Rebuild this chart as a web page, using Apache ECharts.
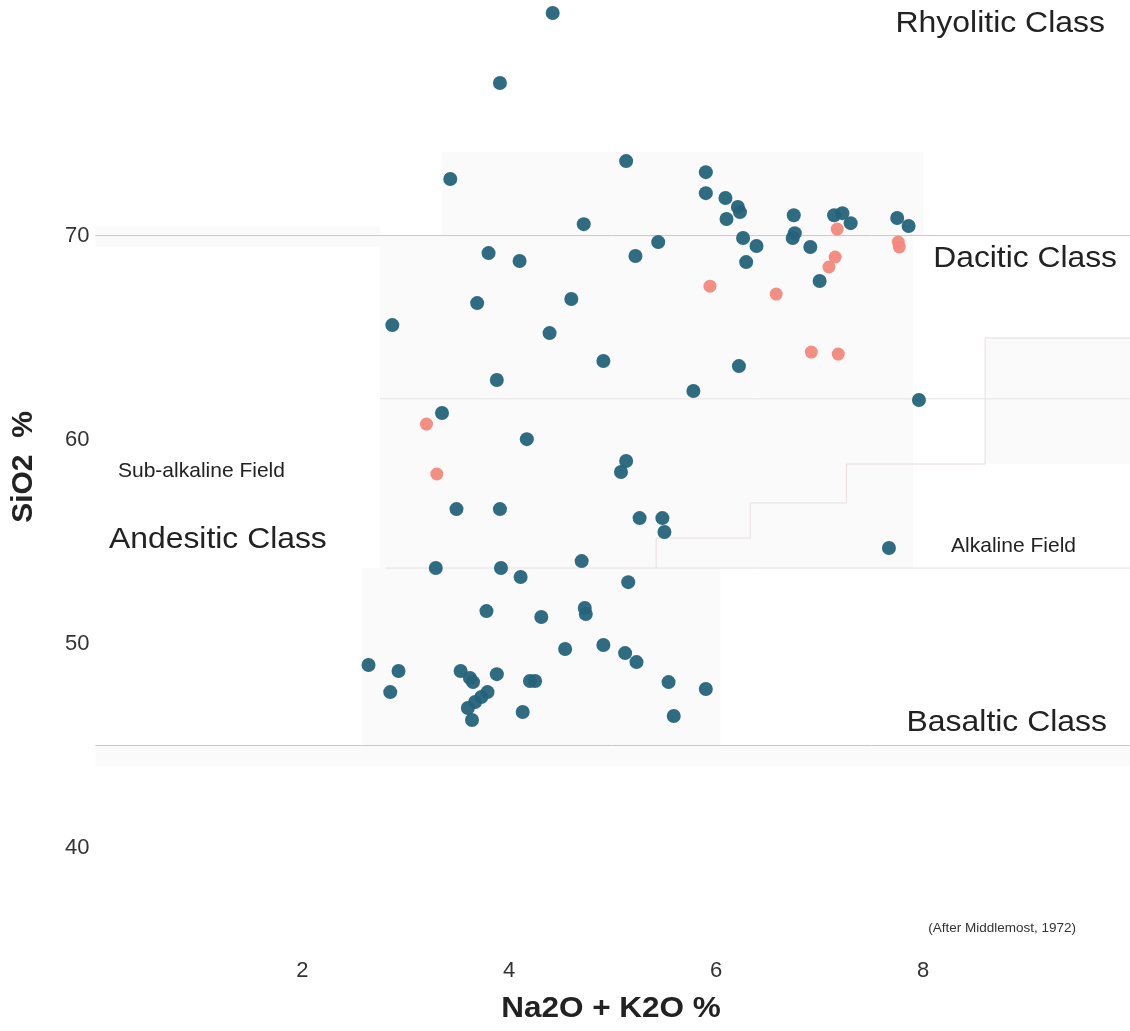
<!DOCTYPE html>
<html>
<head>
<meta charset="utf-8">
<script src="https://cdn.jsdelivr.net/npm/echarts@6/dist/echarts.min.js"></script>
<style>
html,body{margin:0;padding:0;background:#fff;}
#chart{width:1130px;height:1031px;}
</style>
</head>
<body>
<div id="chart"></div>
<script>
// ---- data ----
const xTicks = [2, 4, 6, 8];
const yTicks = [40, 50, 60, 70];

const tealSamples = [
  [4.42,80.91],[3.91,77.48],[3.43,72.77],[5.13,73.65],[5.90,73.11],[5.90,72.08],
  [6.09,71.84],[6.21,71.40],[6.23,71.15],[6.10,70.81],[4.72,70.56],[6.75,71.00],
  [6.76,70.12],[6.74,69.88],[7.14,71.00],[7.22,71.10],[7.30,70.61],[7.75,70.86],
  [7.86,70.47],[6.26,69.88],[6.39,69.49],[6.29,68.70],[6.91,69.44],[7.00,67.77],
  [5.44,69.68],[5.22,69.00],[3.80,69.14],[4.10,68.75],[3.69,66.69],[4.60,66.89],
  [2.87,65.61],[4.39,65.22],[4.91,63.85],[6.22,63.60],[3.88,62.92],[5.78,62.38],
  [7.96,61.94],[3.35,61.30],[4.17,60.02],[5.13,58.95],[5.08,58.41],[3.49,56.59],
  [3.91,56.59],[5.26,56.15],[5.48,56.15],[5.50,55.47],[4.70,54.04],[7.67,54.68],
  [3.29,53.70],[3.92,53.70],[4.11,53.26],[5.15,53.01],[3.78,51.59],[4.31,51.30],
  [4.73,51.74],[4.74,51.45],[4.54,49.73],[4.91,49.93],[5.12,49.53],[5.23,49.09],
  [2.64,48.95],[2.93,48.65],[2.85,47.62],[3.53,48.65],[3.62,48.31],[3.65,48.11],
  [3.88,48.50],[4.20,48.16],[4.25,48.16],[5.54,48.11],[5.90,47.77],[3.79,47.62],
  [3.73,47.38],[3.67,47.13],[3.60,46.84],[3.64,46.25],[4.13,46.64],[5.59,46.45]
];

const salmonSamples = [
  [7.17,70.32],[7.76,69.68],[7.77,69.44],[7.15,68.95],[7.09,68.46],[5.94,67.52],
  [6.58,67.13],[6.92,64.29],[7.18,64.19],[3.20,60.76],[3.30,58.31]
];

const line70 = [[0,70],[10,70]];
const line62 = [[2.75,62],[10,62]];
const line537 = [[2.8,53.7],[10,53.7]];
const line45 = [[0,45],[10,45]];
const alkalineDivide = [
  [5.42,53.7],[5.42,55.17],[6.33,55.17],[6.33,56.89],[7.26,56.89],
  [7.26,58.8],[8.6,58.8],[8.6,64.98],[10,64.98]
];

const shadedFields = [
  [[3.35,74.1],[8.0,70]],
  [[2.75,70],[7.9,53.7]],
  [[8.6,64.98],[10,58.8]],
  [[2.58,53.7],[6.04,45]],
  [[0,45],[10,44]],
  [[0,70.45],[2.75,69.45]]
];

// ---- chart ----
const FONT = "'Liberation Sans', Arial, Helvetica, sans-serif";
const chart = echarts.init(document.getElementById('chart'), null, {renderer:'canvas'});

function boundary(data, color, width, z) {
  return {
    type:'line', data:data, showSymbol:false, symbol:'none', silent:true,
    lineStyle:{color:color, width:width}, z:z, animation:false
  };
}
function label(text, x, y, size, align, opts) {
  opts = opts || {};
  return {
    type:'text', x:x, y:y, scaleX:opts.sx || 1, rotation:opts.rot || 0, silent:true,
    style:{text:text, font:(opts.bold ? 'bold ' : '') + size + 'px ' + FONT,
      fill:opts.fill || '#222', textAlign:align, textVerticalAlign:'middle'}
  };
}

const option = {
  animation:false,
  backgroundColor:'#ffffff',
  grid:{left:95.4, right:0, top:1, bottom:81.5, containLabel:false},
  xAxis:{
    type:'value', min:0, max:10, interval:2,
    axisLine:{show:false}, axisTick:{show:false}, splitLine:{show:false},
    axisLabel:{customValues:xTicks, fontSize:22, color:'#333', margin:10, fontFamily:FONT}
  },
  yAxis:{
    type:'value', min:35, max:81.5,
    axisLine:{show:false}, axisTick:{show:false}, splitLine:{show:false},
    axisLabel:{customValues:yTicks, fontSize:22, color:'#333', margin:6, fontFamily:FONT}
  },
  graphic:[
    label('Na2O + K2O %', 611, 1009, 30, 'center', {bold:true, sx:1.05}),
    label('SiO2  %', 24, 467, 30, 'center', {bold:true, rot:Math.PI/2}),
    label('Rhyolitic Class', 1105, 24, 30, 'right', {sx:1.065}),
    label('Dacitic Class', 1117, 259, 30, 'right', {sx:1.06}),
    label('Andesitic Class', 109, 540, 30, 'left', {sx:1.062}),
    label('Basaltic Class', 1107, 723, 30, 'right', {sx:1.064}),
    label('Sub-alkaline Field', 118, 471, 21, 'left'),
    label('Alkaline Field', 1076, 546, 21, 'right'),
    label('(After Middlemost, 1972)', 1076, 928, 13.5, 'right', {fill:'#333'})
  ],
  series:[
    {
      type:'line', data:[], silent:true, z:0,
      markArea:{silent:true, itemStyle:{color:'#fafafa'}, data:shadedFields.map(a => [{coord:a[0]},{coord:a[1]}])}
    },
    boundary(line70, '#c8c8c8', 1, 1),
    boundary(line62, '#e4e4e4', 1, 1),
    boundary(line537, '#e2e2e2', 1, 1),
    boundary(line45, '#c8c8c8', 1, 1),
    boundary(alkalineDivide, '#e8dede', 1, 1),
    {
      type:'scatter', data:tealSamples, symbolSize:14, z:3,
      itemStyle:{color:'#24637a', opacity:0.95}
    },
    {
      type:'scatter', data:salmonSamples, symbolSize:13, z:4,
      itemStyle:{color:'#f4887b', opacity:0.95}
    }
  ]
};
chart.setOption(option);
</script>
</body>
</html>
